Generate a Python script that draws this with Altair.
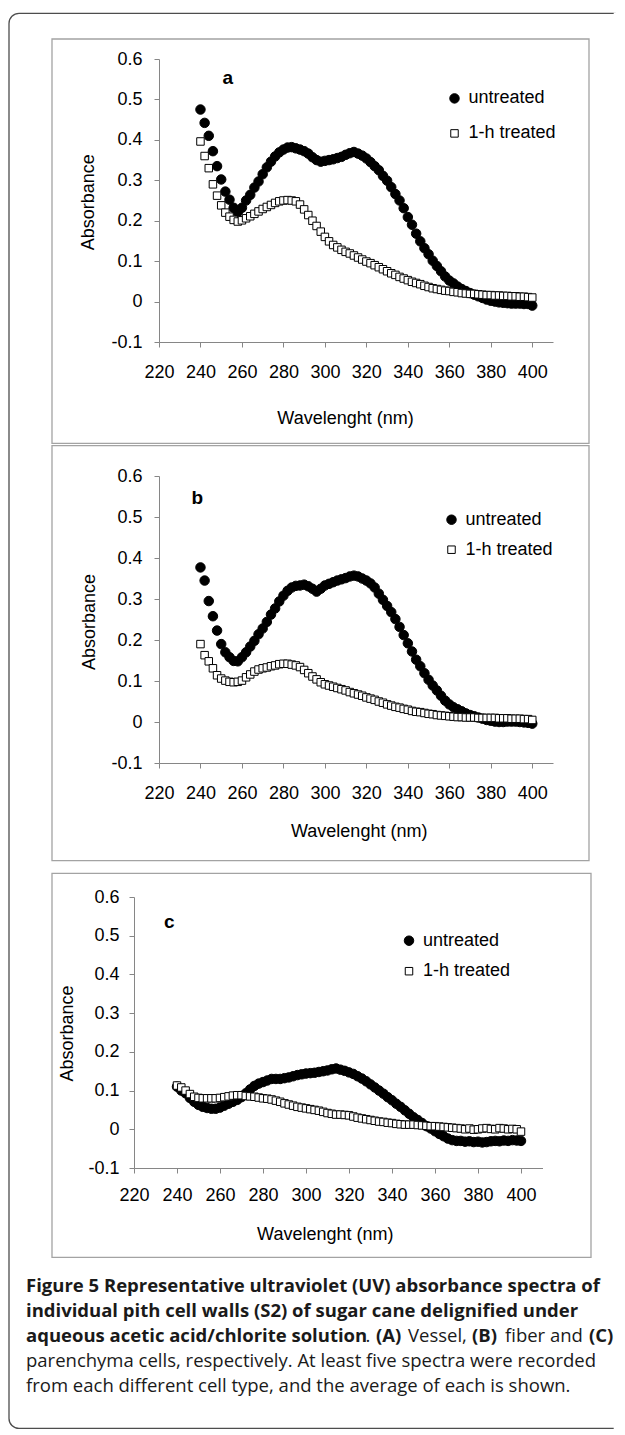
import altair as alt
import pandas as pd

# ---------------- data ----------------
wavelengths = list(range(240, 401, 2))
series_names = ["untreated", "1-h treated"]
x_ticks = [220, 240, 260, 280, 300, 320, 340, 360, 380, 400]
y_ticks = [-0.1, 0, 0.1, 0.2, 0.3, 0.4, 0.5, 0.6]
x_title = "Wavelenght (nm)"
y_title = "Absorbance"

a_untreated = [0.475, 0.442, 0.41, 0.372, 0.335, 0.302, 0.272, 0.252, 0.232, 0.221,
               0.232, 0.25, 0.264, 0.282, 0.297, 0.315, 0.332, 0.346, 0.359, 0.369,
               0.376, 0.381, 0.382, 0.379, 0.376, 0.372, 0.366, 0.357, 0.35, 0.346,
               0.348, 0.35, 0.352, 0.355, 0.358, 0.363, 0.367, 0.37, 0.366, 0.361,
               0.354, 0.345, 0.335, 0.325, 0.311, 0.299, 0.283, 0.266, 0.25, 0.231,
               0.209, 0.19, 0.168, 0.149, 0.132, 0.117, 0.101, 0.088, 0.075, 0.062,
               0.052, 0.045, 0.037, 0.031, 0.026, 0.021, 0.017, 0.013, 0.009, 0.005,
               0.002, 0.0, -0.002, -0.003, -0.004, -0.005, -0.005, -0.005, -0.006, -0.006,
               -0.01]
a_treated = [0.396, 0.36, 0.33, 0.29, 0.262, 0.238, 0.22, 0.21, 0.202, 0.198,
             0.201, 0.206, 0.211, 0.217, 0.223, 0.229, 0.234, 0.239, 0.244, 0.248,
             0.25, 0.251, 0.25, 0.248, 0.24, 0.228, 0.214, 0.2, 0.187, 0.173,
             0.16, 0.149, 0.14, 0.134, 0.128, 0.123, 0.119, 0.114, 0.109, 0.104,
             0.099, 0.095, 0.09, 0.085, 0.08, 0.075, 0.07, 0.066, 0.061, 0.057,
             0.053, 0.049, 0.046, 0.043, 0.039, 0.036, 0.033, 0.031, 0.029, 0.027,
             0.026, 0.024, 0.023, 0.021, 0.02, 0.019, 0.019, 0.018, 0.017, 0.016,
             0.016, 0.015, 0.015, 0.014, 0.014, 0.013, 0.013, 0.012, 0.012, 0.011,
             0.01]
b_untreated = [0.377, 0.345, 0.295, 0.258, 0.223, 0.19, 0.17, 0.158, 0.149, 0.148,
               0.158, 0.17, 0.184, 0.198, 0.214, 0.228, 0.244, 0.262, 0.277, 0.294,
               0.308, 0.32, 0.328, 0.332, 0.333, 0.335, 0.331, 0.325, 0.318, 0.325,
               0.333, 0.337, 0.341, 0.345, 0.348, 0.351, 0.355, 0.357, 0.355, 0.35,
               0.345, 0.338, 0.328, 0.313, 0.298, 0.283, 0.268, 0.251, 0.232, 0.212,
               0.192, 0.172, 0.152, 0.136, 0.119, 0.103, 0.089, 0.077, 0.064, 0.052,
               0.043, 0.036, 0.031, 0.026, 0.021, 0.017, 0.014, 0.011, 0.008, 0.005,
               0.003, 0.001, 0.0, 0.0, 0.001, 0.001, 0.001, 0.0, -0.001, -0.002,
               -0.004]
b_treated = [0.19, 0.163, 0.148, 0.131, 0.114, 0.106, 0.101, 0.098, 0.097, 0.098,
             0.101, 0.109, 0.116, 0.123, 0.128, 0.131, 0.133, 0.136, 0.138, 0.141,
             0.142, 0.142, 0.14, 0.138, 0.134, 0.127, 0.119, 0.111, 0.104, 0.097,
             0.092, 0.089, 0.086, 0.083, 0.08, 0.077, 0.073, 0.07, 0.067, 0.064,
             0.06, 0.057, 0.054, 0.05, 0.047, 0.043, 0.04, 0.037, 0.035, 0.032,
             0.03, 0.027, 0.025, 0.024, 0.022, 0.02, 0.019, 0.017, 0.016, 0.015,
             0.014, 0.013, 0.012, 0.012, 0.011, 0.011, 0.011, 0.01, 0.01, 0.01,
             0.01, 0.01, 0.009, 0.009, 0.009, 0.008, 0.008, 0.008, 0.007, 0.007,
             0.005]
c_untreated = [0.11, 0.1, 0.093, 0.081, 0.071, 0.063, 0.058, 0.055, 0.053, 0.053,
               0.056, 0.061, 0.066, 0.071, 0.076, 0.083, 0.093, 0.103, 0.112, 0.118,
               0.122, 0.126, 0.13, 0.13, 0.13, 0.132, 0.134, 0.137, 0.14, 0.142,
               0.144, 0.145, 0.146, 0.148, 0.15, 0.152, 0.155, 0.157, 0.154, 0.151,
               0.147, 0.143, 0.137, 0.131, 0.124, 0.116, 0.108, 0.1, 0.092, 0.083,
               0.075, 0.066, 0.058, 0.049, 0.04, 0.031, 0.024, 0.016, 0.008, 0.002,
               -0.005, -0.012, -0.018, -0.024, -0.028, -0.03, -0.03, -0.032, -0.031, -0.033,
               -0.032, -0.034, -0.033, -0.031, -0.03, -0.031, -0.029, -0.03, -0.028, -0.029,
               -0.03]
c_treated = [0.113, 0.108, 0.1, 0.091, 0.084, 0.081, 0.08, 0.08, 0.08, 0.08,
             0.081, 0.083, 0.085, 0.087, 0.088, 0.088, 0.086, 0.085, 0.084, 0.082,
             0.08, 0.079, 0.077, 0.074, 0.071, 0.067, 0.064, 0.061, 0.058, 0.056,
             0.054, 0.052, 0.05, 0.048, 0.045, 0.042, 0.04, 0.038, 0.038, 0.037,
             0.036, 0.033, 0.03, 0.028, 0.026, 0.024, 0.022, 0.02, 0.019, 0.017,
             0.016, 0.014, 0.013, 0.012, 0.012, 0.012, 0.011, 0.01, 0.009, 0.008,
             0.008, 0.007, 0.006, 0.005, 0.004, 0.003, 0.002, 0.0, 0.002, -0.001,
             0.0, 0.002, 0.003, 0.001, 0.0, 0.003, 0.002, 0.0, 0.001, 0.0,
             -0.006]

caption_lines_text = [
    [("Figure 5 Representative ultraviolet (UV) absorbance spectra of", True, 26)],
    [("individual pith cell walls (S2) of sugar cane delignified under", True, 26)],
    [("aqueous acetic acid/chlorite solution", True, 26), (".", False, 365.5),
     ("(A)", True, 376), ("Vessel,", False, 408), ("(B)", True, 472),
     ("fiber and", False, 505), ("(C)", True, 589)],
    [("parenchyma cells, respectively. At least five spectra were recorded", False, 26)],
    [("from each different cell type, and the average of each is shown.", False, 26)],
]

# ---------------- style ----------------
FONT = "Liberation Sans"
CAP_FONT = "Open Sans"
AXIS_GRAY = "#868686"
BOX_GRAY = "#a3a3a3"
FRAME_GRAY = "#4d4d4d"
LABEL_EXPR = ("datum.value < 0 ? '-' + format(-datum.value, '.1f') : "
              "(datum.value == 0 ? '0' : format(datum.value, '.1f'))")

panels = [
    dict(letter="a", unt=a_untreated, trt=a_treated, width=394, height=283,
         xrange=[0, 394], yoff=0, ylp=12, xlp=16, xtx=186, xty=81.4,
         ytx=-65.7, yty=142.7, lx=286.5, ly=30.4, lrow=17,
         letx=68.7, lety=25.4, box=(-107, 430, -20, 384.4)),
    dict(letter="b", unt=b_untreated, trt=b_treated, width=394, height=287,
         xrange=[0, 394], yoff=0, ylp=12, xlp=16, xtx=199.7, xty=73.4,
         ytx=-64.8, yty=145.4, lx=283.5, ly=34.7, lrow=12,
         letx=38.3, lety=28.1, box=(-107, 430, -30.3, 384.7)),
    dict(letter="c", unt=c_untreated, trt=c_treated, width=384, height=271,
         xrange=[-25, 383.5], yoff=25, ylp=10, xlp=13, xtx=165.8, xty=71.5,
         ytx=-61.7, yty=136, lx=241, ly=34.7, lrow=12.5,
         letx=10.4, lety=30.5, box=(-107, 432, -23.6, 360.4)),
]

one_row = pd.DataFrame({"k": [0]})


def make_panel(p, extra_layers=()):
    n = len(wavelengths)
    df = pd.DataFrame({
        "wl": wavelengths + wavelengths,
        "series": [series_names[0]] * n + [series_names[1]] * n,
        "absorbance": p["unt"] + p["trt"],
    })
    xs = alt.Scale(domain=[220, 410], range=p["xrange"], nice=False, zero=False)
    ys = alt.Scale(domain=[-0.1, 0.6], nice=False, zero=False)
    leg = alt.Legend(title=None, orient="none", legendX=p["lx"], legendY=p["ly"],
                     rowPadding=p["lrow"], labelOffset=5, padding=0,
                     symbolStrokeColor="black", symbolStrokeWidth=1,
                     labelFont=FONT, labelFontSize=18, labelColor="black")
    pts = alt.Chart(df).mark_point(filled=True, opacity=1, strokeWidth=1).encode(
        x=alt.X("wl:Q", scale=xs,
                axis=alt.Axis(values=x_ticks, format="d", title=x_title,
                              labelOverlap=False, labelFlush=False,
                              labelPadding=p["xlp"], titleX=p["xtx"], titleY=p["xty"],
                              titleBaseline="alphabetic", titleAlign="center")),
        y=alt.Y("absorbance:Q", scale=ys,
                axis=alt.Axis(values=y_ticks, labelExpr=LABEL_EXPR, title=y_title,
                              labelOverlap=False, labelFlush=False,
                              offset=p["yoff"], labelPadding=p["ylp"],
                              titleX=p["ytx"], titleY=p["yty"], titleAngle=270,
                              titleBaseline="alphabetic", titleAlign="center")),
        shape=alt.Shape("series:N", scale=alt.Scale(domain=series_names,
                                                    range=["circle", "square"]), legend=leg),
        fill=alt.Fill("series:N", scale=alt.Scale(domain=series_names,
                                                  range=["#000000", "#ffffff"]), legend=leg),
        stroke=alt.Stroke("series:N", scale=alt.Scale(domain=series_names,
                                                      range=["#000000", "#000000"]), legend=leg),
        size=alt.Size("series:N", scale=alt.Scale(domain=series_names,
                                                  range=[90, 56]), legend=leg),
    )
    x1, x2, y1, y2 = p["box"]
    box = alt.Chart(one_row).mark_rect(fill="white", fillOpacity=0, stroke=BOX_GRAY,
                                       strokeWidth=1.3).encode(
        x=alt.value(x1), x2=alt.value(x2), y=alt.value(y1), y2=alt.value(y2))
    letter = alt.Chart(one_row).mark_text(font=FONT, fontSize=19, fontWeight="bold",
                                          align="center", baseline="alphabetic",
                                          color="black").encode(
        x=alt.value(p["letx"]), y=alt.value(p["lety"]), text=alt.value(p["letter"]))
    layers = list(extra_layers) + [box, pts, letter]
    return alt.layer(*layers).properties(width=p["width"], height=p["height"])


# outer frame: rounded on the left, open at the right page edge (positioned
# relative to panel c's plot origin)
c_origin_x, c_origin_y = 159, 895.6
fl, ft, fr, fb, rad = 9, 12, 615, 1427, 10


def px(v):
    return v - c_origin_x


def py(v):
    return v - c_origin_y


frame_layers = [
    alt.Chart(one_row).mark_rect(fill="white", fillOpacity=0, stroke=FRAME_GRAY,
                                 strokeWidth=1.3, cornerRadiusTopLeft=rad,
                                 cornerRadiusBottomLeft=rad).encode(
        x=alt.value(px(fl)), x2=alt.value(px(fr)), y=alt.value(py(ft)), y2=alt.value(py(fb))),
    # hide the right-hand edge so the frame runs off the page as in the reference
    alt.Chart(one_row).mark_rule(color="white", strokeWidth=2.6).encode(
        x=alt.value(px(fr)), y=alt.value(py(ft - 1)), y2=alt.value(py(fb + 1))),
]

caption_layers = []
for i, line in enumerate(caption_lines_text):
    yy = 1285 + 25 * i
    for txt, bold, xx in line:
        caption_layers.append(
            alt.Chart(one_row).mark_text(font=CAP_FONT, fontSize=18.5,
                                         fontWeight="bold" if bold else "normal",
                                         align="left", baseline="middle",
                                         color="#1a1a1a").encode(
                x=alt.value(px(xx)), y=alt.value(py(yy)), text=alt.value(txt)))

pa = make_panel(panels[0])
pb = make_panel(panels[1])
pc = make_panel(panels[2], extra_layers=frame_layers + caption_layers)

chart = alt.vconcat(pa, pb, pc, spacing=134, bounds="flush").resolve_scale(
    shape="independent", fill="independent", size="independent", stroke="independent"
).properties(
    padding={"left": 0, "top": 3, "right": 0, "bottom": 0}
).configure_view(
    strokeWidth=0
).configure_axis(
    grid=False, domainColor=AXIS_GRAY, domainWidth=1, tickColor=AXIS_GRAY, tickSize=5,
    tickWidth=1, labelFont=FONT, labelFontSize=18, labelColor="black",
    titleFont=FONT, titleFontSize=18, titleFontWeight="normal", titleColor="black"
)

chart.save("out.html", embed_options={"renderer": "svg", "actions": False})
